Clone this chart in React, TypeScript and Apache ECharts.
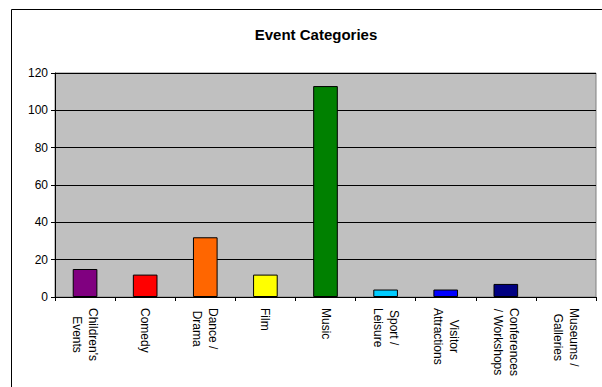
import React, { useEffect, useRef } from "react";
import * as echarts from "echarts";

const categories = [
  "Children's\nEvents",
  "Comedy",
  "Dance /\nDrama",
  "Film",
  "Music",
  "Sport /\nLeisure",
  "Visitor\nAttractions",
  "Conferences\n/ Workshops",
  "Museums /\nGalleries",
];
const values = [15, 12, 32, 12, 113, 4, 4, 7, 0];
const colors = ["#800080", "#FF0000", "#FF6600", "#FFFF00", "#008000", "#00CCFF", "#0000FF", "#000080", "#808080"];
const yTicks = [0, 20, 40, 60, 80, 100, 120];

export default function App() {
  const ref = useRef<HTMLDivElement>(null);
  useEffect(() => {
    const chart = echarts.init(ref.current!, null, { renderer: "svg" });
    chart.setOption({
      animation: false,
      backgroundColor: "#ffffff",
      textStyle: { fontFamily: "Liberation Sans" },
      title: {
        text: "Event Categories",
        left: 311,
        top: 22,
        textAlign: "center",
        textStyle: { fontSize: 15, fontWeight: "bold", color: "#000", fontFamily: "Liberation Sans" },
      },
      graphic: [
        {
          type: "rect",
          shape: { x: 11.5, y: 9.5, width: 600, height: 400 },
          style: { fill: "none", stroke: "#000", lineWidth: 1 },
          silent: true,
        },
      ],
      grid: {
        left: 55,
        top: 73,
        width: 541,
        height: 224,
        show: true,
        backgroundColor: "#C0C0C0",
        borderColor: "#808080",
        borderWidth: 1,
      },
      xAxis: {
        type: "category",
        data: categories,
        axisLine: { lineStyle: { color: "#000", width: 1 } },
        axisTick: { show: true, length: 4, alignWithLabel: false, lineStyle: { color: "#000" } },
        axisLabel: {
          rotate: -90,
          interval: 0,
          color: "#000",
          fontSize: 12,
          lineHeight: 16,
          margin: 11,
          fontFamily: "Liberation Sans",
          formatter: (v: string) =>
            v
              .split("\n")
              .map((l) => `{c|${l}}`)
              .join("\n"),
          rich: {
            c: {
              align: "center",
              fontSize: 12,
              lineHeight: 16,
              color: "#000",
              fontFamily: "Liberation Sans",
            },
          },
        },
      },
      yAxis: {
        type: "value",
        min: yTicks[0],
        max: yTicks[yTicks.length - 1],
        interval: 20,
        axisLine: { show: true, lineStyle: { color: "#000" } },
        axisTick: { show: true, length: 4, lineStyle: { color: "#000" } },
        axisLabel: { color: "#000", fontSize: 12, margin: 7, fontFamily: "Liberation Sans" },
        splitLine: { show: true, lineStyle: { color: "#000", width: 1 } },
      },
      series: [
        {
          type: "bar",
          barWidth: "41%",
          data: values.map((v, i) => ({
            value: v,
            itemStyle: { color: colors[i], borderColor: "#000", borderWidth: v === 0 ? 0 : 1 },
          })),
        },
      ],
    });
    return () => chart.dispose();
  }, []);
  return (
    <div
      ref={ref}
      style={{ position: "fixed", left: 0, top: 0, width: 602, height: 387 }}
    />
  );
}
